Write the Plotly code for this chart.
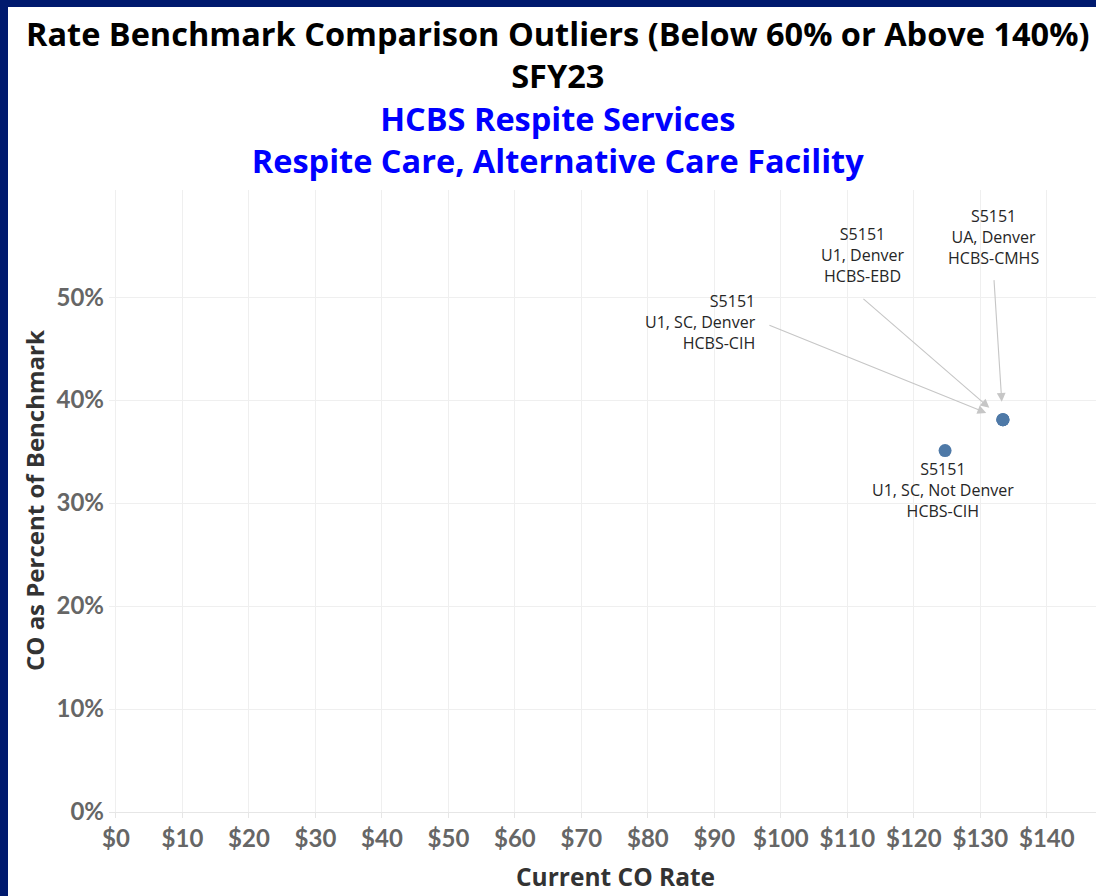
import plotly.graph_objects as go

# ---- data ----
codes = ["S5151", "S5151", "S5151", "S5151"]
modifiers = ["U1, SC, Denver", "U1, Denver", "UA, Denver", "U1, SC, Not Denver"]
programs = ["HCBS-CIH", "HCBS-EBD", "HCBS-CMHS", "HCBS-CIH"]
current_rate = [133.4, 133.4, 133.4, 124.7]
pct_of_benchmark = [0.381, 0.381, 0.381, 0.351]

x_ticks = list(range(0, 150, 10))
x_tick_labels = ["$" + str(v) for v in x_ticks]
y_ticks = [0, 0.1, 0.2, 0.3, 0.4, 0.5]
y_tick_labels = ["0%", "10%", "20%", "30%", "40%", "50%"]

title_main = ["Rate Benchmark Comparison Outliers (Below 60% or Above 140%)", "SFY23"]
title_sub = ["HCBS Respite Services", "Respite Care, Alternative Care Facility"]

# ---- layout constants ----
W, H = 1096, 896
L, R, T, B = 109, 0, 190, 84
PW, PH = W - L - R, H - T - B
NAVY = "#001a6e"
FONT = "Lato"
FONT2 = "Open Sans"

def px_x(p):
    return (p - L) / PW

def px_y(p):
    return (H - B - p) / PH

fig = go.Figure()
fig.add_trace(go.Scatter(
    x=current_rate, y=pct_of_benchmark, mode="markers",
    marker=dict(color="#4e79a7", size=13, line=dict(width=0)),
    hoverinfo="skip", showlegend=False,
))

annotations = []
# title block (black main lines, blue sub lines)
title_html = "<br>".join(
    title_main + ['<span style="color:#0000ff">' + s + "</span>" for s in title_sub]
)
annotations.append(dict(
    text=title_html, xref="paper", yref="paper", x=px_x(557), y=px_y(97),
    xanchor="center", yanchor="middle", align="center", showarrow=False,
    font=dict(family=FONT2, size=32.5, color="#000000", weight="bold"),
))

def label(i):
    return "<br>".join([codes[i], modifiers[i], programs[i]])

# arrows for the overlapping points (offsets in px from the point)
arrow_offsets = [(-235, -95), (-141, -122), (-9, -141)]
for i, (ax, ay) in enumerate(arrow_offsets):
    annotations.append(dict(
        x=current_rate[i], y=pct_of_benchmark[i], xref="x", yref="y",
        text="", showarrow=True, ax=ax, ay=ay,
        arrowhead=2, arrowsize=1.6, arrowwidth=1.1, arrowcolor="#c6c6c6",
        standoff=18,
    ))

# labels (pixel shifts from the point)
label_pos = [
    (0, -245, 98, "right"),
    (1, -140, 165, "center"),
    (2, -9, 183, "center"),
    (3, -2, -39, "center"),
]
for i, xs, ys, anc in label_pos:
    annotations.append(dict(
        x=current_rate[i], y=pct_of_benchmark[i], xref="x", yref="y",
        text=label(i), showarrow=False, xanchor=anc, yanchor="middle",
        align=anc, xshift=xs, yshift=ys,
        font=dict(family=FONT2, size=16, color="#262626"),
    ))

# axis titles
annotations.append(dict(
    text="Current CO Rate", xref="paper", yref="paper",
    x=px_x(615), y=px_y(876), xanchor="center", yanchor="middle",
    showarrow=False, font=dict(family=FONT2, size=24.5, color="#333333", weight="bold"),
))
annotations.append(dict(
    text="CO as Percent of Benchmark", xref="paper", yref="paper",
    x=px_x(34), y=px_y(501), xanchor="center", yanchor="middle", textangle=-90,
    showarrow=False, font=dict(family=FONT2, size=24, color="#333333", weight="bold"),
))

# navy frame: paper is navy, a white sheet covers all but the left and top edges
shapes = [
    dict(type="rect", xref="paper", yref="paper", x0=px_x(8), x1=px_x(W + 5),
         y0=px_y(H + 5), y1=px_y(7), fillcolor="white", line=dict(width=0), layer="below"),
]

fig.update_layout(
    width=W, height=H,
    margin=dict(l=L, r=R, t=T, b=B, autoexpand=False),
    paper_bgcolor=NAVY, plot_bgcolor="white",
    annotations=annotations, shapes=shapes,
    xaxis=dict(
        range=[-1.05, 147.4], tickvals=x_ticks, ticktext=x_tick_labels, tickangle=0,
        showgrid=True, gridcolor="#efefef", gridwidth=1,
        zeroline=False, showline=True, linecolor="#e6e6e6", linewidth=1,
        ticks="outside", ticklen=5, tickcolor="#e6e6e6",
        tickfont=dict(family=FONT, size=24, color="#666666", weight="bold"),
        fixedrange=True,
    ),
    yaxis=dict(
        range=[0, 0.604], tickvals=y_ticks, ticktext=y_tick_labels,
        showgrid=True, gridcolor="#efefef", gridwidth=1,
        zeroline=False, showline=False, ticks="", ticklabelstandoff=4,
        tickfont=dict(family=FONT, size=24, color="#666666", weight="bold"),
        fixedrange=True,
    ),
)

fig.write_html(
    "out.html",
    config={"displayModeBar": False},
    post_script="document.body.style.margin='0';document.body.style.overflow='hidden';",
)
